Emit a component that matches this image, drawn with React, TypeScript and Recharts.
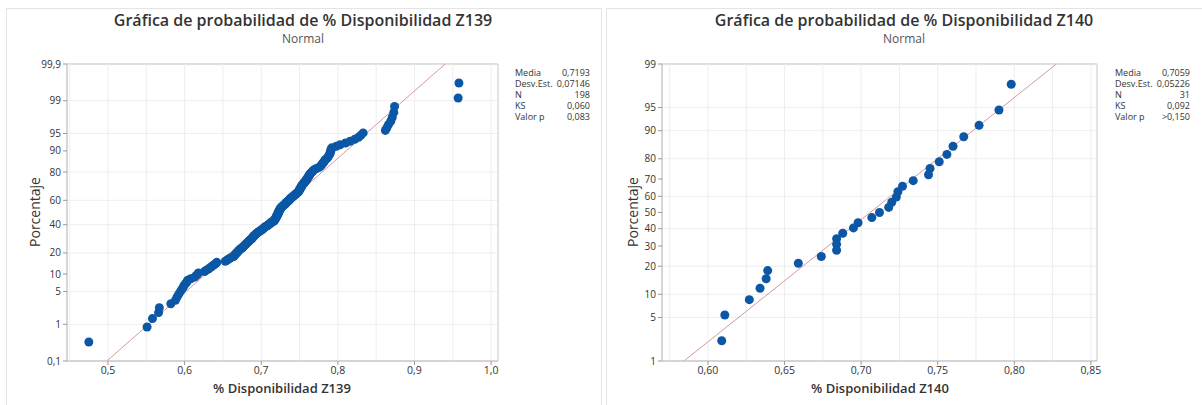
import {
  ScatterChart,
  Scatter,
  XAxis,
  YAxis,
  CartesianGrid,
  ReferenceLine,
  ReferenceArea,
} from "recharts";

// sorted sample values
const z139Values = [
  0.475, 0.551, 0.558, 0.566, 0.567, 0.582, 0.588, 0.59, 0.592, 0.594,
  0.596, 0.598, 0.599, 0.601, 0.603, 0.604, 0.608, 0.613, 0.615, 0.617,
  0.618, 0.626, 0.628, 0.631, 0.633, 0.635, 0.637, 0.639, 0.641, 0.642,
  0.653, 0.655, 0.657, 0.659, 0.661, 0.664, 0.665, 0.666, 0.667, 0.668,
  0.669, 0.67, 0.671, 0.672, 0.673, 0.675, 0.676, 0.677, 0.678, 0.679,
  0.68, 0.681, 0.682, 0.683, 0.684, 0.685, 0.686, 0.687, 0.688, 0.689,
  0.689, 0.69, 0.691, 0.692, 0.693, 0.694, 0.695, 0.696, 0.697, 0.699,
  0.7, 0.701, 0.702, 0.703, 0.704, 0.705, 0.706, 0.708, 0.709, 0.71,
  0.711, 0.712, 0.713, 0.714, 0.716, 0.717, 0.717, 0.718, 0.718, 0.719,
  0.719, 0.72, 0.72, 0.72, 0.721, 0.721, 0.722, 0.722, 0.722, 0.723,
  0.723, 0.723, 0.724, 0.724, 0.725, 0.725, 0.726, 0.726, 0.727, 0.728,
  0.729, 0.73, 0.731, 0.732, 0.732, 0.733, 0.734, 0.735, 0.736, 0.737,
  0.737, 0.738, 0.739, 0.74, 0.741, 0.742, 0.743, 0.744, 0.745, 0.746,
  0.747, 0.748, 0.749, 0.749, 0.75, 0.75, 0.751, 0.751, 0.752, 0.752,
  0.753, 0.753, 0.754, 0.755, 0.756, 0.756, 0.757, 0.758, 0.759, 0.759,
  0.76, 0.761, 0.761, 0.762, 0.763, 0.763, 0.764, 0.765, 0.766, 0.767,
  0.768, 0.77, 0.772, 0.775, 0.777, 0.778, 0.779, 0.78, 0.781, 0.782,
  0.783, 0.784, 0.786, 0.787, 0.788, 0.789, 0.79, 0.79, 0.791, 0.791,
  0.792, 0.798, 0.803, 0.81, 0.816, 0.822, 0.827, 0.83, 0.833, 0.862,
  0.864, 0.866, 0.869, 0.871, 0.873, 0.874, 0.957, 0.958,
];

const z140Values = [
  0.609, 0.611, 0.627, 0.634, 0.638, 0.639, 0.659, 0.674, 0.684, 0.684,
  0.684, 0.688, 0.695, 0.698, 0.707, 0.712, 0.718, 0.72, 0.723, 0.724,
  0.727, 0.734, 0.744, 0.745, 0.751, 0.756, 0.76, 0.767, 0.777, 0.79,
  0.798,
];

const z139Stats = [
  ["Media", "0,7193"],
  ["Desv.Est.", "0,07146"],
  ["N", "198"],
  ["KS", "0,060"],
  ["Valor p", "0,083"],
];
const z140Stats = [
  ["Media", "0,7059"],
  ["Desv.Est.", "0,05226"],
  ["N", "31"],
  ["KS", "0,092"],
  ["Valor p", ">0,150"],
];

const z139Mean = 0.7193;
const z139Sd = 0.07146;
const z140Mean = 0.7059;
const z140Sd = 0.05226;

const z139PctTicks = [0.1, 1, 5, 10, 20, 30, 40, 50, 60, 70, 80, 90, 95, 99, 99.9];
const z140PctTicks = [1, 5, 10, 20, 30, 40, 50, 60, 70, 80, 90, 95, 99];

const z139XTicks = [0.5, 0.6, 0.7, 0.8, 0.9, 1.0];
const z139XGrid = [0.45, 0.5, 0.55, 0.6, 0.65, 0.7, 0.75, 0.8, 0.85, 0.9, 0.95, 1.0];
const z140XTicks = [0.6, 0.65, 0.7, 0.75, 0.8, 0.85];
const z140XGrid = [0.575, 0.6, 0.625, 0.65, 0.675, 0.7, 0.725, 0.75, 0.775, 0.8, 0.825, 0.85];

// inverse normal cdf (Acklam)
function probit(p: number) {
  const a = [-39.69683028665376, 220.9460984245205, -275.9285104469687, 138.357751867269, -30.66479806614716, 2.506628277459239];
  const b = [-54.47609879822406, 161.5858368580409, -155.6989798598866, 66.80131188771972, -13.28068155288572];
  const c = [-0.007784894002430293, -0.3223964580411365, -2.400758277161838, -2.549671010165126, 4.374664141464968, 2.938163982698783];
  const d = [0.007784695709041462, 0.3224671290700398, 2.445134137142996, 3.754408661907416];
  const pl = 0.02425;
  if (p < pl) {
    const q = Math.sqrt(-2 * Math.log(p));
    return (((((c[0] * q + c[1]) * q + c[2]) * q + c[3]) * q + c[4]) * q + c[5]) /
      ((((d[0] * q + d[1]) * q + d[2]) * q + d[3]) * q + 1);
  }
  if (p <= 1 - pl) {
    const q = p - 0.5;
    const r = q * q;
    return ((((((a[0] * r + a[1]) * r + a[2]) * r + a[3]) * r + a[4]) * r + a[5]) * q) /
      (((((b[0] * r + b[1]) * r + b[2]) * r + b[3]) * r + b[4]) * r + 1);
  }
  const q = Math.sqrt(-2 * Math.log(1 - p));
  return -(((((c[0] * q + c[1]) * q + c[2]) * q + c[3]) * q + c[4]) * q + c[5]) /
    ((((d[0] * q + d[1]) * q + d[2]) * q + d[3]) * q + 1);
}

const comma = (v: number, digits: number) => v.toFixed(digits).replace(".", ",");

// Benard median ranks
function toPoints(values: number[]) {
  const n = values.length;
  return values.map((v, i) => ({ x: v, z: probit((i + 1 - 0.3) / (n + 0.4)) }));
}

const FONT = "'Open Sans', 'Noto Sans', sans-serif";
const TEXT = "#333";
const FRAME = "#c9c9c9";
const GRID = "#eeeeee";
const DOT = "#0b57a6";
const FIT = "#d49a9a";

const Dot = (props: any) => (
  <circle cx={props.cx} cy={props.cy} r={4.5} fill={DOT} />
);

interface ProbPlotProps {
  values: number[];
  mean: number;
  sd: number;
  pctTicks: number[];
  xTicks: number[];
  xGrid: number[];
  xDomain: [number, number];
  xDigits: number;
  marginLeft: number;
  marginRight: number;
  width: number;
}

function ProbPlot(p: ProbPlotProps) {
  const zTicks = p.pctTicks.map((t) => probit(t / 100));
  const zMin = zTicks[0];
  const zMax = zTicks[zTicks.length - 1];
  const pctLabel = (z: number) => {
    let best = 0;
    zTicks.forEach((t, i) => {
      if (Math.abs(t - z) < Math.abs(zTicks[best] - z)) best = i;
    });
    const pct = p.pctTicks[best];
    return Number.isInteger(pct) ? String(pct) : comma(pct, 1);
  };
  const data = toPoints(p.values);
  return (
    <ScatterChart
      width={p.width}
      height={405}
      margin={{ top: 64, right: p.marginRight, bottom: 14, left: p.marginLeft }}
    >
      <CartesianGrid vertical={false} stroke={GRID} />
      {p.xGrid.map((g) => (
        <ReferenceLine key={g} x={g} stroke={GRID} />
      ))}
      <XAxis
        type="number"
        dataKey="x"
        domain={p.xDomain}
        ticks={p.xTicks}
        allowDataOverflow
        height={30}
        tickFormatter={(v: number) => comma(v, p.xDigits)}
        tick={{ fontSize: 10.5, fill: TEXT, fontFamily: FONT }}
        tickLine={{ stroke: "#999" }}
        tickSize={4}
        axisLine={{ stroke: FRAME }}
      />
      <YAxis
        type="number"
        dataKey="z"
        domain={[zMin, zMax]}
        ticks={zTicks}
        allowDataOverflow
        width={40}
        tickFormatter={pctLabel}
        tick={{ fontSize: 10, fill: TEXT, fontFamily: FONT }}
        tickLine={{ stroke: "#999" }}
        tickSize={4}
        tickMargin={2}
        axisLine={{ stroke: FRAME }}
      />
      <ReferenceArea
        x1={p.xDomain[0]}
        x2={p.xDomain[1]}
        y1={zMin}
        y2={zMax}
        fill="none"
        stroke={FRAME}
      />
      <ReferenceLine
        segment={[
          { x: p.mean + zMin * p.sd, y: zMin },
          { x: p.mean + zMax * p.sd, y: zMax },
        ]}
        stroke={FIT}
        strokeWidth={1}
      />
      <Scatter data={data} shape={Dot} isAnimationActive={false} />
    </ScatterChart>
  );
}

function StatsBox({ rows, left }: { rows: string[][]; left: number }) {
  return (
    <div style={{ position: "absolute", left, top: 67, width: 75, fontSize: 9, lineHeight: "11px", color: TEXT }}>
      {rows.map(([k, v]) => (
        <div key={k} style={{ display: "flex", justifyContent: "space-between" }}>
          <span>{k}</span>
          <span>{v}</span>
        </div>
      ))}
    </div>
  );
}

function Titles({ left, width, title, plotCenter, yLabelX, xLabel }: any) {
  return (
    <>
      <div style={{ position: "absolute", left, width, top: 10, height: 20, lineHeight: "20px", textAlign: "center", fontSize: 16, fontWeight: 600, color: TEXT, whiteSpace: "nowrap" }}>
        {title}
      </div>
      <div style={{ position: "absolute", left, width, top: 32, height: 13, lineHeight: "13px", textAlign: "center", fontSize: 12, color: "#555" }}>
        Normal
      </div>
      <div style={{ position: "absolute", left: plotCenter - 150, width: 300, top: 379, textAlign: "center", fontSize: 13, fontWeight: 600, color: TEXT }}>
        {xLabel}
      </div>
      <div
        style={{
          position: "absolute",
          left: yLabelX - 60,
          top: 212 - 10,
          width: 120,
          height: 20,
          lineHeight: "20px",
          textAlign: "center",
          fontSize: 14,
          color: TEXT,
          transform: "rotate(-90deg)",
        }}
      >
        Porcentaje
      </div>
    </>
  );
}

export default function App() {
  return (
    <div style={{ position: "relative", width: 1202, height: 405, background: "#fff", overflow: "hidden", fontFamily: FONT }}>
      <style>{`body{margin:0}`}</style>
      <div style={{ position: "absolute", left: 6, top: 8, width: 594, height: 420, border: "1px solid #e4e4e4" }} />
      <div style={{ position: "absolute", left: 606, top: 8, width: 620, height: 420, border: "1px solid #e4e4e4" }} />
      <div style={{ position: "absolute", left: 0, top: 0 }}>
        <ProbPlot
          values={z139Values}
          mean={z139Mean}
          sd={z139Sd}
          pctTicks={z139PctTicks}
          xTicks={z139XTicks}
          xGrid={z139XGrid}
          xDomain={[0.4465, 1.009]}
          xDigits={1}
          marginLeft={27}
          marginRight={102}
          width={600}
        />
      </div>
      <div style={{ position: "absolute", left: 600, top: 0 }}>
        <ProbPlot
          values={z140Values}
          mean={z140Mean}
          sd={z140Sd}
          pctTicks={z140PctTicks}
          xTicks={z140XTicks}
          xGrid={z140XGrid}
          xDomain={[0.57, 0.854]}
          xDigits={2}
          marginLeft={22}
          marginRight={105}
          width={602}
        />
      </div>
      <Titles left={6} width={594} title="Gráfica de probabilidad de % Disponibilidad Z139" plotCenter={282} yLabelX={35} xLabel="% Disponibilidad Z139" />
      <Titles left={606} width={596} title="Gráfica de probabilidad de % Disponibilidad Z140" plotCenter={880} yLabelX={633} xLabel="% Disponibilidad Z140" />
      <StatsBox rows={z139Stats} left={515} />
      <StatsBox rows={z140Stats} left={1115} />
    </div>
  );
}
